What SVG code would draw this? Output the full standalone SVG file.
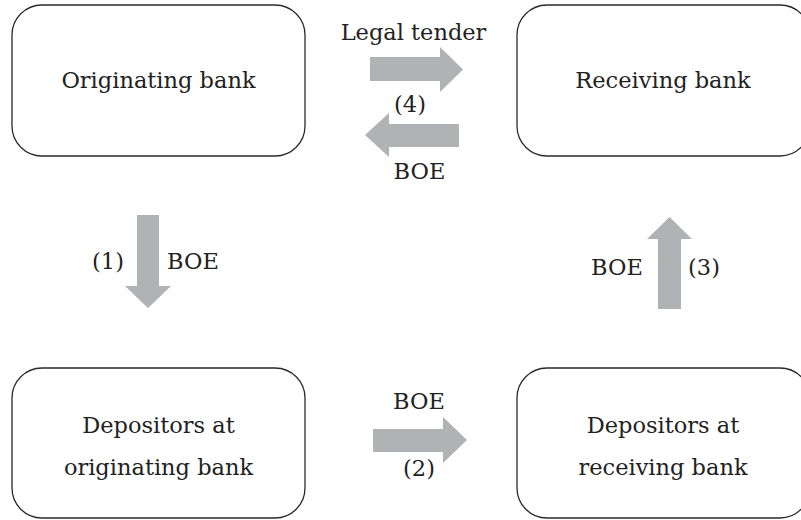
<svg xmlns="http://www.w3.org/2000/svg" width="801" height="520" viewBox="0 0 801 520">
<style>
.box{fill:#fff;stroke:#2a2a2a;stroke-width:1.3}
.t{font-family:"DejaVu Serif","Liberation Serif",serif;font-size:22.5px;fill:#222;text-anchor:middle}
.arr{fill:#b1b2b4}
</style>
<rect width="801" height="520" fill="#fff"/>
<g id="node-originating-bank">
<rect class="box" x="12" y="5" width="293" height="151" rx="30"/>
<text class="t" x="158.5" y="88">Originating bank</text>
</g>
<g id="node-receiving-bank">
<rect class="box" x="517" y="5" width="293" height="151" rx="30"/>
<text class="t" x="663" y="88">Receiving bank</text>
</g>
<g id="node-depositors-originating">
<rect class="box" x="12" y="368" width="293" height="150" rx="30"/>
<text class="t" x="158.5" y="433">Depositors at</text>
<text class="t" x="158.5" y="475">originating bank</text>
</g>
<g id="node-depositors-receiving">
<rect class="box" x="517" y="368" width="293" height="150" rx="30"/>
<text class="t" x="663" y="433">Depositors at</text>
<text class="t" x="663" y="475">receiving bank</text>
</g>
<g id="connectors">
<polygon class="arr" points="370,57 440,57 440,47 463,69.5 440,92 440,81 370,81"/>
<polygon class="arr" points="459,124 389,124 389,113 365,135 389,157 389,147 459,147"/>
<polygon class="arr" points="137,215 159,215 159,286 171,286 148,308 125,286 137,286"/>
<polygon class="arr" points="373,429 443,429 443,417 467,440 443,463 443,452 373,452"/>
<polygon class="arr" points="658,309 681,309 681,239 692,239 669.5,217 647,239 658,239"/>
<text class="t" x="413.5" y="40">Legal tender</text>
<text class="t" x="410" y="112">(4)</text>
<text class="t" x="419.5" y="179">BOE</text>
<text class="t" x="108" y="269">(1)</text>
<text class="t" x="193" y="269">BOE</text>
<text class="t" x="419" y="409">BOE</text>
<text class="t" x="419" y="476">(2)</text>
<text class="t" x="617" y="275">BOE</text>
<text class="t" x="704" y="275">(3)</text>
</g>
</svg>
